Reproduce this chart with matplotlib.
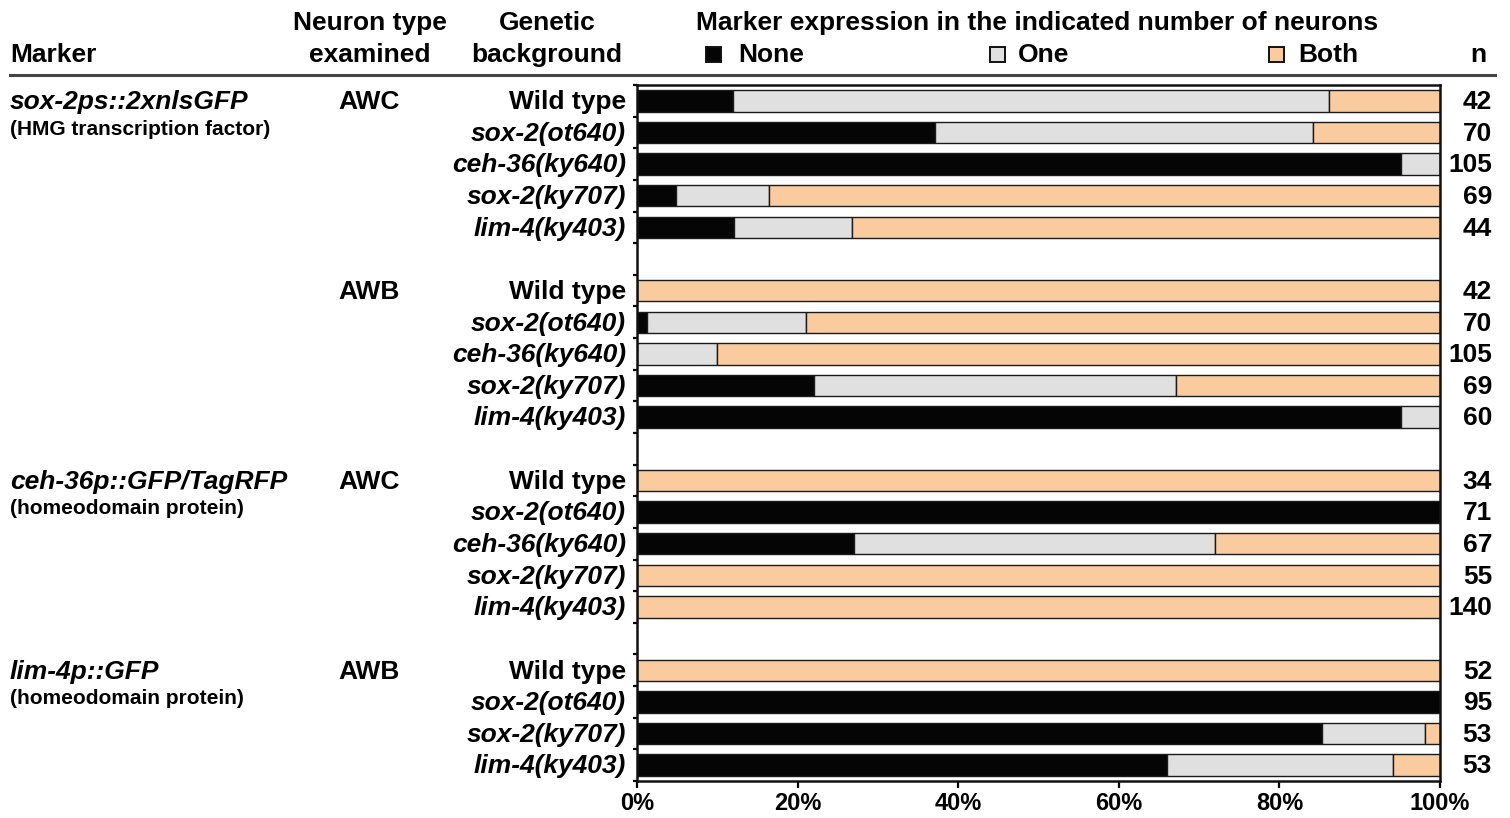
import matplotlib
matplotlib.use("Agg")
import matplotlib.pyplot as plt
import matplotlib.transforms as mtransforms
from matplotlib.patches import Rectangle
from matplotlib.lines import Line2D
import numpy as np

plt.rcParams['font.family'] = ['Liberation Sans', 'DejaVu Sans']

# ---------------- data ----------------
markers = ["sox-2ps::2xnlsGFP", "ceh-36p::GFP/TagRFP", "lim-4p::GFP"]
marker_notes = ["(HMG transcription factor)", "(homeodomain protein)", "(homeodomain protein)"]
marker_group_start = [0, 2, 3]          # which neuron group each marker label sits on
neuron_types = ["AWC", "AWB", "AWC", "AWB"]
group_sizes = [5, 5, 5, 4]

genotypes = [
    "Wild type", "sox-2(ot640)", "ceh-36(ky640)", "sox-2(ky707)", "lim-4(ky403)",
    "Wild type", "sox-2(ot640)", "ceh-36(ky640)", "sox-2(ky707)", "lim-4(ky403)",
    "Wild type", "sox-2(ot640)", "ceh-36(ky640)", "sox-2(ky707)", "lim-4(ky403)",
    "Wild type", "sox-2(ot640)", "sox-2(ky707)", "lim-4(ky403)",
]
n_values = [42, 70, 105, 69, 44,
            42, 70, 105, 69, 60,
            34, 71, 67, 55, 140,
            52, 95, 53, 53]
pct_none = [11.9, 37.1, 95.2, 4.8, 12.1,
            0.0, 1.2, 0.0, 22.1, 95.2,
            0.0, 100.0, 27.0, 0.0, 0.0,
            0.0, 100.0, 85.3, 66.0]
pct_one = [74.3, 47.1, 4.8, 11.6, 14.7,
           0.0, 19.8, 10.0, 45.0, 4.8,
           0.0, 0.0, 45.0, 0.0, 0.0,
           0.0, 0.0, 12.8, 28.1]
pct_both = [13.8, 15.8, 0.0, 83.6, 73.2,
            100.0, 79.0, 90.0, 32.9, 0.0,
            100.0, 0.0, 28.0, 100.0, 100.0,
            100.0, 0.0, 1.9, 5.9]
categories = ["None", "One", "Both"]
x_ticks = [0, 20, 40, 60, 80, 100]
x_tick_labels = ["0%", "20%", "40%", "60%", "80%", "100%"]

colors = {"None": "#050505", "One": "#e0e0e0", "Both": "#f9cb9f"}

# ---------------- layout ----------------
W, H = 1510, 818
fig = plt.figure(figsize=(W / 100, H / 100), dpi=100)
ax = fig.add_axes([637 / W, 1 - 781 / H, (1440 - 637) / W, (781 - 85) / H])

# row positions: groups separated by one empty slot
positions = []
group_first = []
slot = 0
for g in group_sizes:
    group_first.append(slot)
    for _ in range(g):
        positions.append(slot)
        slot += 1
    slot += 1
n_slots = slot - 1
positions = np.array(positions, dtype=float)

none_a = np.array(pct_none)
one_a = np.array(pct_one)
both_a = np.array(pct_both)
bh = 0.68
ec = "#1a1a1a"
ax.barh(positions, none_a, height=bh, color=colors["None"], edgecolor=ec, linewidth=1.0)
ax.barh(positions, one_a, left=none_a, height=bh, color=colors["One"], edgecolor=ec, linewidth=1.0)
ax.barh(positions, both_a, left=none_a + one_a, height=bh, color=colors["Both"], edgecolor=ec, linewidth=1.0)

ax.set_xlim(0, 100)
ax.set_ylim(n_slots - 0.5, -0.5)
ax.set_xticks(x_ticks)
ax.set_xticklabels(x_tick_labels, fontsize=17, fontweight="bold")
ax.tick_params(axis="x", length=5, width=1.6, pad=3)
ax.set_yticks(np.arange(-0.5, n_slots, 1.0))
ax.set_yticklabels([])
ax.tick_params(axis="y", length=3, width=1.6)
for s in ["left", "right", "top", "bottom"]:
    ax.spines[s].set_linewidth(1.8)
    ax.spines[s].set_color("#111111")

# blended transform: x in figure fraction, y in data
tr = mtransforms.blended_transform_factory(fig.transFigure, ax.transData)
fs_main = 19
dy = 0.04

for y, g, n in zip(positions, genotypes, n_values):
    style = "normal" if g == "Wild type" else "italic"
    fig.text(626 / W, y + dy, g, transform=tr, ha="right", va="center",
             fontsize=fs_main, fontweight="bold", fontstyle=style)
    fig.text(1492 / W, y + dy, str(n), transform=tr, ha="right", va="center",
             fontsize=fs_main, fontweight="bold")

for gi, nt in enumerate(neuron_types):
    fig.text(369 / W, group_first[gi] + dy, nt, transform=tr, ha="center", va="center",
             fontsize=fs_main, fontweight="bold")

for m, note, gi in zip(markers, marker_notes, marker_group_start):
    y0 = group_first[gi]
    fig.text(10 / W, y0 + dy, m, transform=tr, ha="left", va="center",
             fontsize=fs_main, fontweight="bold", fontstyle="italic")
    fig.text(10 / W, y0 + 0.9, note, transform=tr, ha="left", va="center",
             fontsize=15, fontweight="bold")

# ---------------- header ----------------
y1 = 1 - 23 / H
y2 = 1 - 55 / H
fig.text(10 / W, y2, "Marker", ha="left", va="center", fontsize=fs_main, fontweight="bold")
fig.text(370 / W, y1, "Neuron type", ha="center", va="center", fontsize=fs_main, fontweight="bold")
fig.text(370 / W, y2, "examined", ha="center", va="center", fontsize=fs_main, fontweight="bold")
fig.text(547 / W, y1, "Genetic", ha="center", va="center", fontsize=fs_main, fontweight="bold")
fig.text(547 / W, y2, "background", ha="center", va="center", fontsize=fs_main, fontweight="bold")
fig.text(1037 / W, y1, "Marker expression in the indicated number of neurons",
         ha="center", va="center", fontsize=fs_main, fontweight="bold")
fig.text(1478 / W, y2, "n", ha="center", va="center", fontsize=fs_main, fontweight="bold")

legend_sq_x = {"None": 706, "One": 990, "Both": 1269}
legend_tx_x = {"None": 738, "One": 1018, "Both": 1298}
sq = 15
for c in categories:
    fig.add_artist(Rectangle((legend_sq_x[c] / W, 1 - 62 / H), sq / W, sq / H,
                             transform=fig.transFigure, facecolor=colors[c],
                             edgecolor="#111111", linewidth=1.4))
    fig.text(legend_tx_x[c] / W, y2, c, ha="left", va="center",
             fontsize=fs_main, fontweight="bold")

fig.add_artist(Line2D([10 / W, 1495 / W], [1 - 75 / H, 1 - 75 / H],
                      transform=fig.transFigure, color="#444444", linewidth=2.2))

fig.savefig("out.png", dpi=100)
